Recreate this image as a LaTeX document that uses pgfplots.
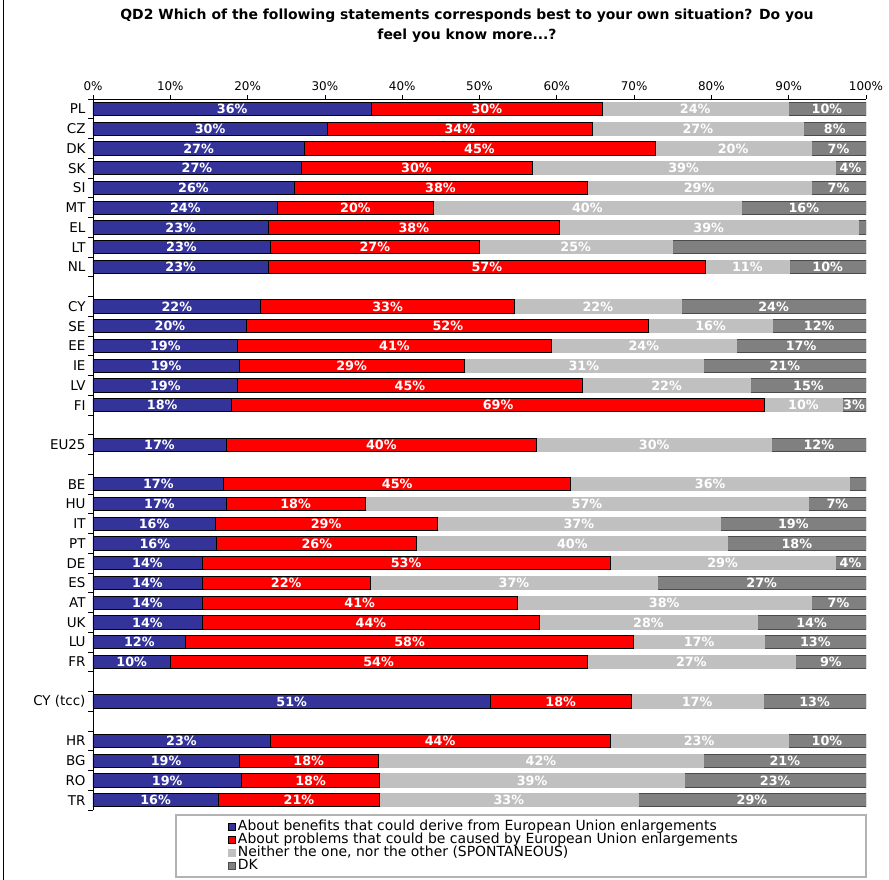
\documentclass[border=0pt]{standalone}
\usepackage{fontspec}
\setmainfont{DejaVu Sans}
\usepackage{pgfplots}
\usepackage{pgfplotstable}
\pgfplotsset{compat=1.18}
\definecolor{cblue}{HTML}{333399}
\definecolor{cred}{HTML}{FF0000}
\definecolor{clight}{HTML}{C0C0C0}
\definecolor{cdark}{HTML}{808080}

\pgfplotstableread{
y a b c d la lb lc ld
0 36.0 29.9 24.0 10.1 36\% 30\% 24\% 10\%
1 30.3 34.3 27.3 8.1 30\% 34\% 27\% 8\%
2 27.3 45.4 20.2 7.1 27\% 45\% 20\% 7\%
3 26.9 29.9 39.2 4.0 27\% 30\% 39\% 4\%
4 26.0 37.9 29.0 7.1 26\% 38\% 29\% 7\%
5 23.9 20.1 39.9 16.1 24\% 20\% 40\% 16\%
6 22.7 37.6 38.7 1.0 23\% 38\% 39\% {}
7 22.9 27.1 24.9 25.1 23\% 27\% 25\% {}
8 22.7 56.5 10.9 9.9 23\% 57\% 11\% 10\%
10 21.7 32.8 21.6 23.9 22\% 33\% 22\% 24\%
11 19.9 52.0 16.0 12.1 20\% 52\% 16\% 12\%
12 18.7 40.6 23.9 16.8 19\% 41\% 24\% 17\%
13 18.9 29.1 31.0 21.0 19\% 29\% 31\% 21\%
14 18.7 44.6 21.8 14.9 19\% 45\% 22\% 15\%
15 17.9 69.0 10.0 3.1 18\% 69\% 10\% 3\%
17 17.2 40.2 30.4 12.2 17\% 40\% 30\% 12\%
19 16.9 44.9 36.1 2.1 17\% 45\% 36\% {}
20 17.2 18.0 57.4 7.4 17\% 18\% 57\% 7\%
21 15.8 28.7 36.7 18.8 16\% 29\% 37\% 19\%
22 16.0 25.9 40.2 17.9 16\% 26\% 40\% 18\%
23 14.1 52.8 29.1 4.0 14\% 53\% 29\% 4\%
24 14.1 21.8 37.1 27.0 14\% 22\% 37\% 27\%
25 14.1 40.8 38.0 7.1 14\% 41\% 38\% 7\%
26 14.1 43.7 28.1 14.1 14\% 44\% 28\% 14\%
27 12.0 57.9 17.0 13.1 12\% 58\% 17\% 13\%
28 10.0 53.9 27.0 9.1 10\% 54\% 27\% 9\%
30 51.4 18.2 17.1 13.3 51\% 18\% 17\% 13\%
32 22.9 44.0 23.0 10.1 23\% 44\% 23\% 10\%
33 18.9 18.0 42.1 21.0 19\% 18\% 42\% 21\%
34 19.2 17.9 39.4 23.5 19\% 18\% 39\% 23\%
35 16.2 20.9 33.4 29.5 16\% 21\% 33\% 29\%
}\data

\pgfplotsset{
  sq/.style={legend image code/.code={\draw[##1] (0bp,-3.5bp) rectangle (7bp,3.5bp);}},
}

\begin{document}
\begin{tikzpicture}
\useasboundingbox (-93bp,-70bp) rectangle (796bp,810bp);
\begin{axis}[
  at={(0,0)}, anchor=south west,
  width=773bp, height=711bp, scale only axis,
  xmin=0, xmax=100, ymin=-0.5, ymax=35.5, y dir=reverse,
  xbar stacked, bar width=0.67,
  axis x line*=top, axis y line*=left,
  axis line style={-, black, line width=0.8pt},
  xtick={0,10,...,100},
  xticklabel={\pgfmathprintnumber{\tick}\%},
  xticklabel style={font=\fontsize{12}{14}\selectfont, yshift=1bp},
  ytick={0,1,2,3,4,5,6,7,8,10,11,12,13,14,15,17,19,20,21,22,23,24,25,26,27,28,30,32,33,34,35},
  yticklabels={PL,CZ,DK,SK,SI,MT,EL,LT,NL,CY,SE,EE,IE,LV,FI,EU25,BE,HU,IT,PT,DE,ES,AT,UK,LU,FR,CY (tcc),HR,BG,RO,TR},
  yticklabel style={font=\fontsize{13.5}{15}\selectfont},
  minor ytick={-0.5,0.5,...,35.5},
  tick align=outside,
  major tick length=4bp, minor tick length=5bp,
  major y tick style={draw=none},
  tick style={black, line width=0.8pt},
  /pgf/number format/assume math mode=true,
  legend style={at={(0.1746,-0.0148)}, anchor=north west, draw=none, fill=none,
    inner sep=0pt, font=\fontsize{14}{14}\selectfont,
    nodes={inner xsep=2bp, inner ysep=0pt, text height=10bp, text depth=3bp},
    row sep=0pt},
  legend cell align=left,
]
\addplot[sq, fill=cblue, draw=black, line width=0.8pt] table[x=a, y=y]{\data};
\addplot[sq, fill=cred, draw=black, line width=0.8pt] table[x=b, y=y]{\data};
\addplot[sq, fill=clight, draw=clight, line width=0.8pt] table[x=c, y=y]{\data};
\addplot[sq, fill=cdark, draw=black!70, line width=0.8pt] table[x=d, y=y]{\data};
\legend{About benefits that could derive from European Union enlargements,
About problems that could be caused by European Union enlargements,
Neither the one{,} nor the other (SPONTANEOUS),
DK}
\end{axis}
\begin{axis}[
  at={(0,0)}, anchor=south west,
  width=773bp, height=711bp, scale only axis,
  xmin=0, xmax=100, ymin=-0.5, ymax=35.5, y dir=reverse,
  hide axis, clip=false,
  nodes near coords, point meta=explicit symbolic,
  every node near coord/.style={anchor=center, text=white, inner sep=0pt,
    font=\bfseries\fontsize{12.8}{12.8}\selectfont},
]
\addplot[only marks, mark=none] table[x expr=\thisrow{a}/2, y=y, meta=la]{\data};
\addplot[only marks, mark=none] table[x expr=\thisrow{a}+\thisrow{b}/2, y=y, meta=lb]{\data};
\addplot[only marks, mark=none] table[x expr=\thisrow{a}+\thisrow{b}+\thisrow{c}/2, y=y, meta=lc]{\data};
\addplot[only marks, mark=none] table[x expr=\thisrow{a}+\thisrow{b}+\thisrow{c}+\thisrow{d}/2, y=y, meta=ld]{\data};
\end{axis}
\draw[black, line width=0.8pt] (-90bp,-70bp) -- (-90bp,810bp);
\draw[black!30, line width=1.6bp] (83bp,-5bp) rectangle (773bp,-67bp);
\node[font=\bfseries\fontsize{14}{20}\selectfont, align=center] at (374bp,784bp)
  {QD2 Which of the following statements corresponds best to your own situation? Do you\\feel you know more...?};
\end{tikzpicture}
\end{document}
